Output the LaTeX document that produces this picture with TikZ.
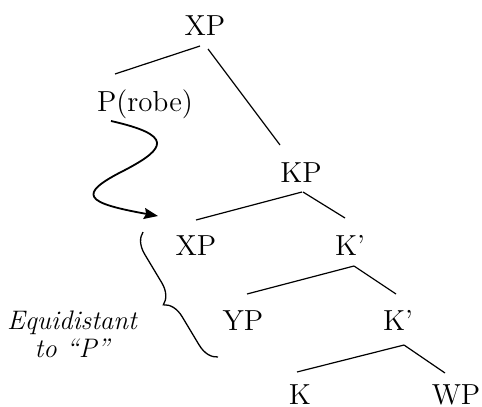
\documentclass[tikz,border=0pt]{standalone}
\usetikzlibrary{decorations.pathreplacing,arrows.meta}

\begin{document}
\begin{tikzpicture}[x=0.5pt,y=-0.5pt,
    cat/.style={anchor=base,inner sep=0pt,font=\fontsize{14.5}{16}\selectfont},
    branch/.style={line width=0.6pt},
    note/.style={anchor=north,align=center,inner sep=0pt,font=\fontsize{13.4}{14}\selectfont\itshape}]

\useasboundingbox (0,0) rectangle (482,407);

% Tree nodes
\node[cat] (xp) at (205,35) {XP};
\node[cat] (probe) at (145,111) {P(robe)};
\node[cat] (kp) at (301,182) {KP};
\node[cat] (xpb) at (196,255) {XP};
\node[cat] (kbara) at (350,255) {K'};
\node[cat] (yp) at (243,330) {YP};
\node[cat] (kbarb) at (398,330) {K'};
\node[cat] (k) at (300,404) {K};
\node[cat] (wp) at (456,404) {WP};

% Label for the brace
\node[note] (eqlbl) at (72,310) {Equidistant\\to ``P''};

% Branches
\draw[branch] ([shift={(-5,11)}]xp.base) -- ([shift={(-30,-37)}]probe.base);
\draw[branch] ([shift={(3,14)}]xp.base) -- ([shift={(-21,-37)}]kp.base);
\draw[branch] ([shift={(1,10)}]kp.base) -- ([shift={(0,-35)}]xpb.base);
\draw[branch] ([shift={(2,10)}]kp.base) -- ([shift={(-5,-37)}]kbara.base);
\draw[branch] ([shift={(4,11)}]kbara.base) -- ([shift={(4,-36)}]yp.base);
\draw[branch] ([shift={(4,11)}]kbara.base) -- ([shift={(-2,-36)}]kbarb.base);
\draw[branch] ([shift={(6,15)}]kbarb.base) -- ([shift={(-3,-32)}]k.base);
\draw[branch] ([shift={(6,15)}]kbarb.base) -- ([shift={(-11,-31)}]wp.base);

% Probe arrow
\coordinate (bend) at (125,170);
\coordinate (tip) at (158,216);
\draw[line width=0.9pt,-{Stealth[length=7pt,width=5.5pt,inset=1pt]}]
    ([shift={(-34,10)}]probe.base) .. controls +(62,14) and +(42,-22) .. (bend)
    .. controls +(-50,25) and +(-72,-13) .. (tip);

% Brace
\draw[line width=0.65pt,decorate,decoration={brace,amplitude=10pt}]
    ([shift={(-25,27)}]yp.base) -- ([shift={(-53,-23)}]xpb.base);

\end{tikzpicture}
\end{document}
